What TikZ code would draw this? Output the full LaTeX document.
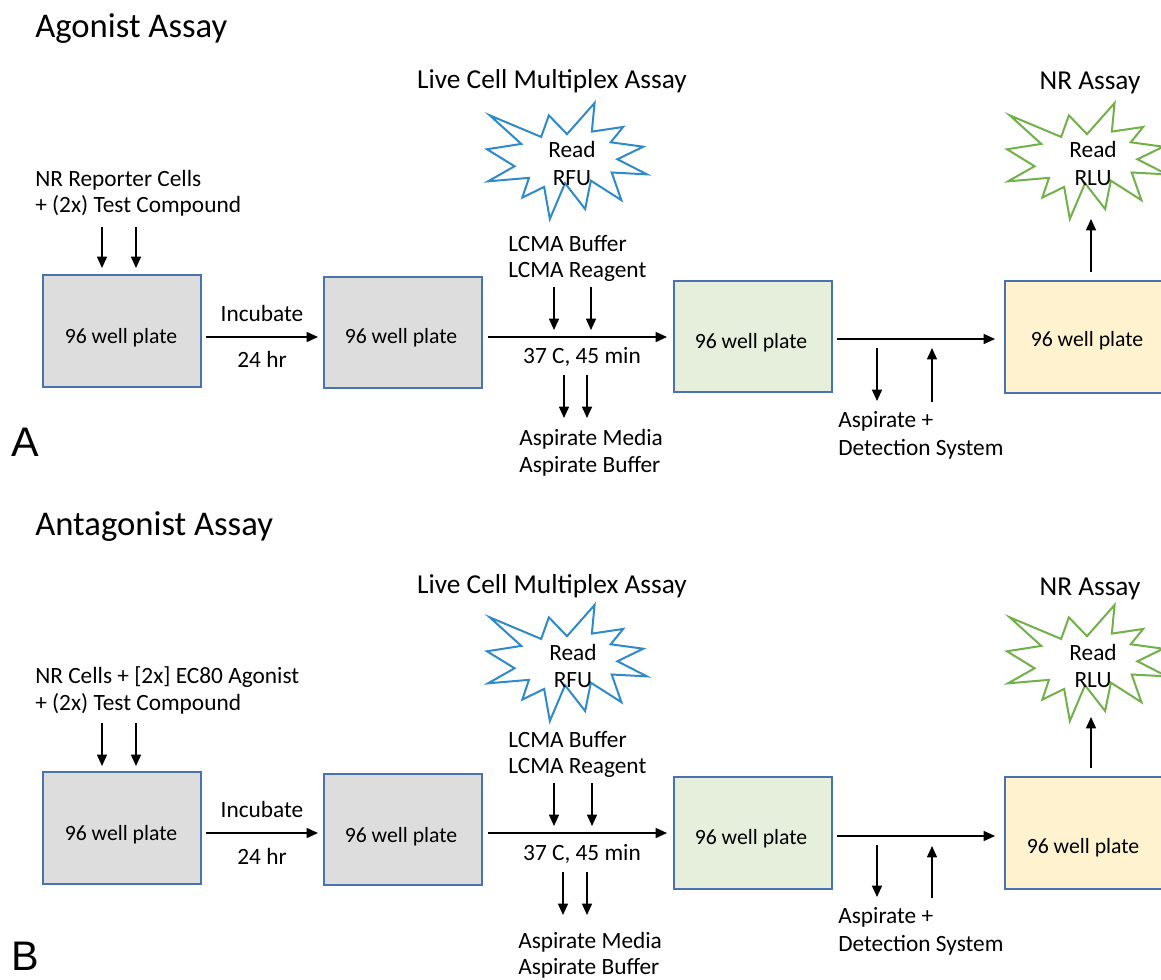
\documentclass[tikz,border=0pt]{standalone}
\usepackage{fontspec}
\setmainfont{Carlito}
\newfontfamily\arialfont{Liberation Sans}
\usetikzlibrary{arrows.meta}
\definecolor{boxblue}{HTML}{4A72B0}
\definecolor{platgray}{HTML}{DDDDDD}
\definecolor{platgreen}{HTML}{E5EFDC}
\definecolor{platorange}{HTML}{FFF2CE}
\definecolor{starblue}{HTML}{2E8ACB}
\definecolor{stargreen}{HTML}{72B04A}
\newcommand{\explosion}[5]{% left, top, w, h, colour
  \begin{scope}[shift={(#1,#2)}, xscale=#3/216, yscale=#4/216]
    \draw[draw=#5, line width=1.5pt, fill=white, line join=miter]
      (108,58) -- (145.22,0) -- (141.55,53.25) -- (183.80,44.57) -- (167.02,73.15)
      -- (210.97,81.37) -- (176.07,104.75) -- (216,132.90) -- (168.37,129.42)
      -- (181.45,180.95) -- (140.20,144.57) -- (132.47,197.37) -- (105.32,149.35)
      -- (84.85,216) -- (77.15,156.27) -- (47.62,176.17) -- (56.67,139.37)
      -- (1.35,145.87) -- (37.22,117.75) -- (0,86.15) -- (46.27,76.17)
      -- (3.70,22.95) -- (73.12,63.20) -- (83.52,22.95) -- cycle;
  \end{scope}}
\tikzset{
  plate/.style={draw=boxblue, line width=1.5pt, inner sep=0pt, outer sep=0pt,
    minimum width=118.5pt, minimum height=83.3pt},
  wideplate/.style={plate, minimum width=123pt, minimum height=84pt},
  arr/.style={line width=1.1pt, -{Triangle[length=8.5pt,width=7.5pt]}},
  lbl/.style={inner sep=0pt, anchor=base, font=\fontsize{17.5}{21}\selectfont},
  lblw/.style={lbl, anchor=base west},
  boxtxt/.style={inner sep=0pt, anchor=base, font=\fontsize{16.3}{19}\selectfont},
  head/.style={inner sep=0pt, anchor=base, font=\fontsize{20.5}{24}\selectfont},
  ttl/.style={inner sep=0pt, anchor=base west, font=\fontsize{26}{30}\selectfont},
  letter/.style={inner sep=0pt, anchor=base west, font=\arialfont\fontsize{31}{34}\selectfont}
}
\begin{document}
\begin{tikzpicture}[x=0.75pt, y=-0.75pt]
\path[use as bounding box] (0,0) rectangle (1161,979);
\clip (0,0) rectangle (1161,979);

% ================= Panel A =================
\node[ttl] (a-title) at (35,37) {Agonist Assay};
\node[head] (a-lcma) at (552,88) {Live Cell Multiplex Assay};
\node[head] (a-nr) at (1090,89) {NR Assay};
\explosion{487}{103}{160}{116}{starblue}
\explosion{1007}{103}{160}{116}{stargreen}
\node[lbl] (a-rfu1) at (572,157) {Read};
\node[lbl] (a-rfu2) at (572,185) {RFU};
\node[lbl] (a-rlu1) at (1093,157) {Read};
\node[lbl] (a-rlu2) at (1093,185) {RLU};
\coordinate (a-starb) at (1091,219);

\node[lblw] (a-in1) at (35,186) {NR Reporter Cells};
\node[lblw] (a-in2) at (35,212) {+ (2x) Test Compound};

\node[plate, fill=platgray] (a-b1) at (122,331) {};
\node[plate, fill=platgray] (a-b2) at (402.5,332.5) {};
\node[plate, fill=platgreen] (a-b3) at (752.5,336.5) {};
\node[wideplate, fill=platorange] (a-b4) at (1087,337) {};
\node[boxtxt] (a-t1) at (121,343) {96 well plate};
\node[boxtxt] (a-t2) at (401,343) {96 well plate};
\node[boxtxt] (a-t3) at (751,348) {96 well plate};
\node[boxtxt] (a-t4) at (1087,346) {96 well plate};

\coordinate (a-d1s) at (102,227); \coordinate (a-d1e) at (102,268);
\coordinate (a-d2s) at (136,227); \coordinate (a-d2e) at (136,268);
\draw[arr] (a-d1s) -- (a-d1e);
\draw[arr] (a-d2s) -- (a-d2e);

\node[lbl] (a-inc) at (262,321) {Incubate};
\node[lbl] (a-24) at (262,367) {24 hr};
\coordinate (a-h1s) at (206,337); \coordinate (a-h1e) at (318,337);
\draw[arr] (a-h1s) -- (a-h1e);

\node[lblw] (a-buf) at (508,251) {LCMA Buffer};
\node[lblw] (a-rea) at (508,277) {LCMA Reagent};
\coordinate (a-l1s) at (554,287); \coordinate (a-l1e) at (554,330);
\coordinate (a-l2s) at (591,287); \coordinate (a-l2e) at (591,330);
\draw[arr] (a-l1s) -- (a-l1e);
\draw[arr] (a-l2s) -- (a-l2e);
\coordinate (a-h2s) at (488,337); \coordinate (a-h2e) at (667,337);
\draw[arr] (a-h2s) -- (a-h2e);
\node[lbl] (a-37) at (582,363) {37 C, 45 min};
\coordinate (a-m1s) at (564,375); \coordinate (a-m1e) at (564,418);
\coordinate (a-m2s) at (587,375); \coordinate (a-m2e) at (587,418);
\draw[arr] (a-m1s) -- (a-m1e);
\draw[arr] (a-m2s) -- (a-m2e);
\node[lblw] (a-am) at (519,445) {Aspirate Media};
\node[lblw] (a-ab) at (519,472) {Aspirate Buffer};

\coordinate (a-h3s) at (837,339); \coordinate (a-h3e) at (995,339);
\draw[arr] (a-h3s) -- (a-h3e);
\coordinate (a-x1s) at (877,348); \coordinate (a-x1e) at (877,401);
\coordinate (a-x2s) at (932,402); \coordinate (a-x2e) at (932,348);
\draw[arr] (a-x1s) -- (a-x1e);
\draw[arr] (a-x2s) -- (a-x2e);
\node[lblw] (a-asp) at (838,427) {Aspirate +};
\node[lblw] (a-det) at (838,455) {Detection System};

\coordinate (a-us) at (1091,272);
\draw[arr] (a-us) -- (a-starb);

\node[letter] (a-letter) at (11,456) {A};

% ================= Panel B =================
\node[ttl] (b-title) at (35,535) {Antagonist Assay};
\node[head] (b-lcma) at (552,593) {Live Cell Multiplex Assay};
\node[head] (b-nr) at (1090,595) {NR Assay};
\explosion{487}{605}{160}{116}{starblue}
\explosion{1007}{605}{160}{116}{stargreen}
\node[lbl] (b-rfu1) at (573,660) {Read};
\node[lbl] (b-rfu2) at (573,687) {RFU};
\node[lbl] (b-rlu1) at (1093,660) {Read};
\node[lbl] (b-rlu2) at (1093,687) {RLU};
\coordinate (b-starb) at (1091,717);

\node[lblw] (b-in1) at (35,683) {NR Cells + [2x] EC80 Agonist};
\node[lblw] (b-in2) at (35,710) {+ (2x) Test Compound};

\node[plate, fill=platgray] (b-b1) at (122,828) {};
\node[plate, fill=platgray] (b-b2) at (402.5,829.5) {};
\node[plate, fill=platgreen] (b-b3) at (753,833) {};
\node[wideplate, fill=platorange] (b-b4) at (1087,832.5) {};
\node[boxtxt] (b-t1) at (121,840) {96 well plate};
\node[boxtxt] (b-t2) at (401,842) {96 well plate};
\node[boxtxt] (b-t3) at (751,844) {96 well plate};
\node[boxtxt] (b-t4) at (1083,853) {96 well plate};

\coordinate (b-d1s) at (102,723); \coordinate (b-d1e) at (102,766);
\coordinate (b-d2s) at (136,723); \coordinate (b-d2e) at (136,766);
\draw[arr] (b-d1s) -- (b-d1e);
\draw[arr] (b-d2s) -- (b-d2e);

\node[lbl] (b-inc) at (262,817) {Incubate};
\node[lbl] (b-24) at (262,864) {24 hr};
\coordinate (b-h1s) at (206,833); \coordinate (b-h1e) at (318,833);
\draw[arr] (b-h1s) -- (b-h1e);

\node[lblw] (b-buf) at (508,747) {LCMA Buffer};
\node[lblw] (b-rea) at (508,773) {LCMA Reagent};
\coordinate (b-l1s) at (554,783); \coordinate (b-l1e) at (554,826);
\coordinate (b-l2s) at (592,783); \coordinate (b-l2e) at (592,826);
\draw[arr] (b-l1s) -- (b-l1e);
\draw[arr] (b-l2s) -- (b-l2e);
\coordinate (b-h2s) at (488,833); \coordinate (b-h2e) at (667,833);
\draw[arr] (b-h2s) -- (b-h2e);
\node[lbl] (b-37) at (582,860) {37 C, 45 min};
\coordinate (b-m1s) at (563,872); \coordinate (b-m1e) at (563,915);
\coordinate (b-m2s) at (587,872); \coordinate (b-m2e) at (587,915);
\draw[arr] (b-m1s) -- (b-m1e);
\draw[arr] (b-m2s) -- (b-m2e);
\node[lblw] (b-am) at (518,948) {Aspirate Media};
\node[lblw] (b-ab) at (518,974) {Aspirate Buffer};

\coordinate (b-h3s) at (837,836); \coordinate (b-h3e) at (995,836);
\draw[arr] (b-h3s) -- (b-h3e);
\coordinate (b-x1s) at (877,845); \coordinate (b-x1e) at (877,897);
\coordinate (b-x2s) at (932,898); \coordinate (b-x2e) at (932,846);
\draw[arr] (b-x1s) -- (b-x1e);
\draw[arr] (b-x2s) -- (b-x2e);
\node[lblw] (b-asp) at (838,923) {Aspirate +};
\node[lblw] (b-det) at (838,951) {Detection System};

\coordinate (b-us) at (1091,768);
\draw[arr] (b-us) -- (b-starb);

\node[letter] (b-letter) at (11,970) {B};
\end{tikzpicture}
\end{document}
